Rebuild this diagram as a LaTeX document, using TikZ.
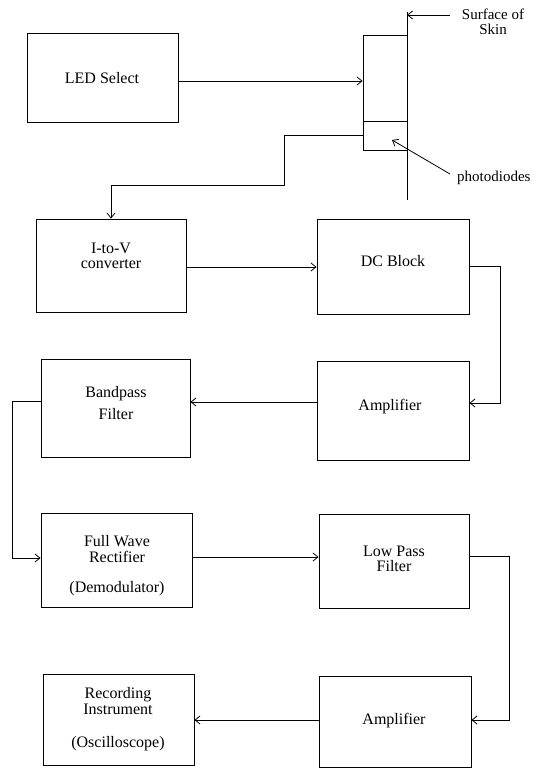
\documentclass[tikz,border=0pt]{standalone}
\usepackage{fontspec}
\setmainfont{Liberation Serif}
\usetikzlibrary{arrows.meta,fit}
\begin{document}
\begin{tikzpicture}[x=1pt,y=-1pt,
  box/.style={draw, line width=0.8pt, inner sep=0pt, rectangle},
  txt/.style={font=\fontsize{16}{15.5}\selectfont, align=center, inner sep=0pt},
  lbl/.style={font=\fontsize{15}{14.5}\selectfont, align=center, inner sep=0pt},
  wire/.style={line width=0.8pt},
  arr/.style={line width=0.8pt, -{Straight Barb[length=5pt,width=8pt,line width=0.8pt]}}]
\useasboundingbox (0,0) rectangle (542,768);
% boxes
\node[box, fit={(27,33) (178,122)}] (led) {};
\node[box, fit={(363,35) (407,121)}] (sensorTop) {};
\node[box, fit={(363,121) (407,150)}] (sensorPD) {};
\node[box, fit={(36,219) (186,312)}] (itov) {};
\node[box, fit={(317,219) (469,314)}] (dc) {};
\node[box, fit={(41,359) (190,457)}] (bp) {};
\node[box, fit={(317,361) (469,460)}] (amp1) {};
\node[box, fit={(41,513) (192,607)}] (fw) {};
\node[box, fit={(319,514) (469,608)}] (lp) {};
\node[box, fit={(43,674) (194,765)}] (rec) {};
\node[box, fit={(319,676) (471,767)}] (amp2) {};
% texts
\node[txt] (ledT) at (102,78) {LED Select};
\node[txt] (itovT) at (111,256) {I-to-V\\converter};
\node[txt] (dcT) at (393,261) {DC Block};
\node[txt] (bpT) at (116,403) {Bandpass\\[6pt]Filter};
\node[txt] (amp1T) at (390,407) {Amplifier};
\node[txt] (fwT) at (117,549) {Full Wave\\Rectifier};
\node[txt] (fwT2) at (117,589) {(Demodulator)};
\node[txt] (lpT) at (394,559) {Low Pass\\Filter};
\node[txt] (recT) at (118,701) {Recording\\Instrument};
\node[txt] (recT2) at (118,744) {(Oscilloscope)};
\node[txt] (amp2T) at (394,721) {Amplifier};
\node[lbl] (skinT) at (493,22) {Surface of\\Skin};
\node[lbl, anchor=west] (pdT) at (457,178) {photodiodes};
% skin surface line
\coordinate (sk1) at (407,12);
\coordinate (sk2) at (407,200);
\draw[wire] (sk1) -- (sk2);
\coordinate (sa) at (450,15);
\draw[arr] (sa) -- (sa -| sk1);
\coordinate (pa) at (450,174);
\coordinate (pb) at (392,140);
\draw[arr] (pa) -- (pb);
% connectors
\coordinate (yA) at (0,81);
\draw[arr] (led.east |- yA) -- (sensorTop.west |- yA);
\coordinate (b1) at (284,185);
\draw[arr] (sensorPD.west) -| (b1) -| (itov.north);
\coordinate (yB) at (0,267);
\draw[arr] (itov.east |- yB) -- (dc.west |- yB);
\coordinate (c1t) at (500,266);
\coordinate (c1b) at (500,403);
\draw[arr] (dc.east |- c1t) -- (c1t) -- (c1b) -- (amp1.east |- c1b);
\coordinate (yC) at (0,402);
\draw[arr] (amp1.west |- yC) -- (bp.east |- yC);
\coordinate (c2t) at (12,401);
\coordinate (c2b) at (12,558);
\draw[arr] (bp.west |- c2t) -- (c2t) -- (c2b) -- (fw.west |- c2b);
\coordinate (yD) at (0,557);
\draw[arr] (fw.east |- yD) -- (lp.west |- yD);
\coordinate (c3t) at (509,556);
\coordinate (c3b) at (509,720);
\draw[arr] (lp.east |- c3t) -- (c3t) -- (c3b) -- (amp2.east |- c3b);
\coordinate (yE) at (0,720);
\draw[arr] (amp2.west |- yE) -- (rec.east |- yE);
\end{tikzpicture}
\end{document}
